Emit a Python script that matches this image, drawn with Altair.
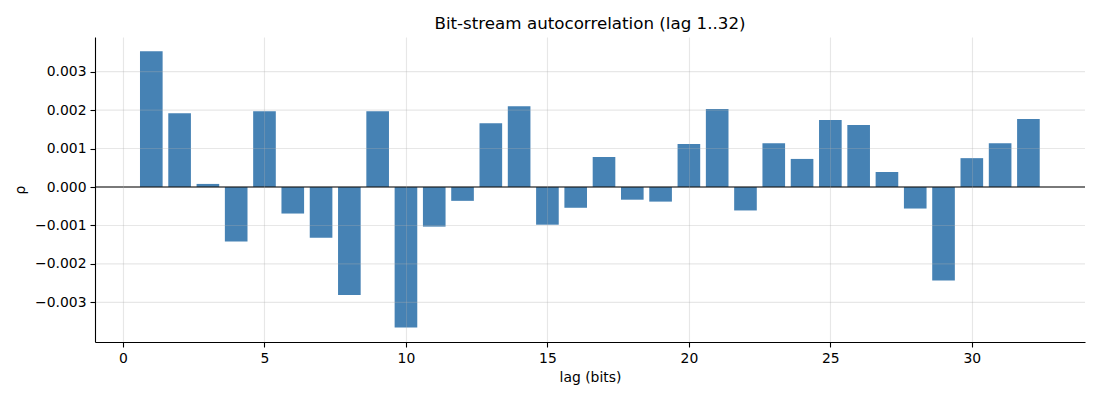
import altair as alt
import pandas as pd

lags = list(range(1, 33))
rho = [0.00353, 0.00192, 0.00008, -0.00142, 0.00197, -0.00069, -0.00132, -0.00281,
       0.00197, -0.00365, -0.00103, -0.00036, 0.00166, 0.00210, -0.00098, -0.00054,
       0.00078, -0.00033, -0.00038, 0.00112, 0.00203, -0.00061, 0.00114, 0.00073,
       0.00174, 0.00161, 0.00039, -0.00056, -0.00243, 0.00075, 0.00114, 0.00177]
x_ticks = [0, 5, 10, 15, 20, 25, 30]
y_ticks = [-0.003, -0.002, -0.001, 0.0, 0.001, 0.002, 0.003]

df = pd.DataFrame({"lag": lags, "rho": rho})
grid_df = pd.DataFrame({"g": y_ticks})

FONT = "DejaVu Sans"
axis_common = dict(
    labelFont=FONT, titleFont=FONT, labelFontSize=13.9, titleFontSize=13.9,
    labelColor="black", titleColor="black", titleFontWeight="normal",
    domainColor="black", domainWidth=1.1, tickColor="black", tickWidth=1.1,
    tickSize=5, labelPadding=4,
)

yscale = alt.Scale(domain=[-0.00403, 0.0039], nice=False, zero=False)

bars = alt.Chart(df).transform_calculate(
    lo="datum.lag - 0.4", hi="datum.lag + 0.4"
).mark_bar(color="#4682b4").encode(
    x=alt.X("lo:Q", scale=alt.Scale(domain=[-0.99, 34.0], nice=False, zero=False),
            axis=alt.Axis(values=x_ticks, format="d", title="lag (bits)",
                          titlePadding=6, grid=True, gridColor="#b0b0b0",
                          gridOpacity=0.3, gridWidth=1.1, zindex=1, **axis_common)),
    x2="hi:Q",
    y=alt.Y("rho:Q", scale=yscale,
            axis=alt.Axis(values=y_ticks, format=".3f", title="ρ", grid=False,
                          titlePadding=7, zindex=1, **axis_common)),
    y2=alt.datum(0),
)

ygrid = alt.Chart(grid_df).mark_rule(color="#b0b0b0", opacity=0.3, strokeWidth=1.1).encode(
    y=alt.Y("g:Q", scale=yscale)
)

zero = alt.Chart(pd.DataFrame({"v": [0.0]})).mark_rule(color="black", strokeWidth=1.1).encode(
    y=alt.Y("v:Q", scale=yscale)
)

chart = alt.layer(bars, ygrid, zero).properties(
    width=990, height=305,
    title=alt.TitleParams("Bit-stream autocorrelation (lag 1..32)", font=FONT,
                          fontSize=16.7, fontWeight="normal", color="black",
                          baseline="bottom", offset=5, dy=18),
    autosize=alt.AutoSizeParams(type="none"),
    padding={"left": 87, "top": 29, "right": 7, "bottom": 50},
).configure_view(stroke=None)

chart.save("out.html", embed_options={"renderer": "svg", "actions": False})
